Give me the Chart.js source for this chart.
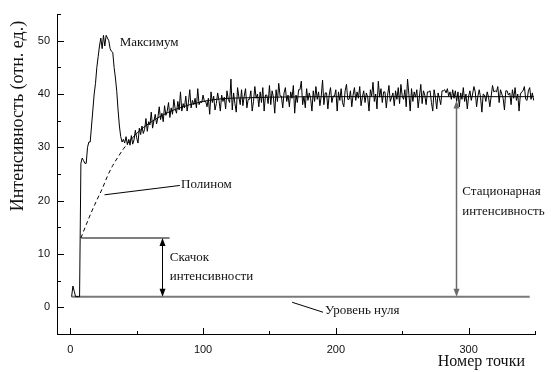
<!DOCTYPE html>
<html>
<head>
<meta charset="utf-8">
<script src="https://cdn.jsdelivr.net/npm/chart.js@4.4.1/dist/chart.umd.min.js"></script>
<style>
html,body{margin:0;padding:0;background:#fff;}
#wrap{width:551px;height:372px;position:relative;}
</style>
</head>
<body>
<div id="wrap"><canvas id="c" width="551" height="372"></canvas></div>
<script>
// ---- data ----
const riseStartX = 1;
const riseValues = [2,4,3,2,2,2,2,27,28,27.5,27,27,30,31,31,34,37,40,42,45,47,49,50.5,48.5,51,49,51,50.5,50,48.5,48,47.8,45,43,40.5,37,34,32,31,31.5,30.8,32,30.5,31.5];
const noiseStartX = 45;
const noiseValues = [
30.4,32.2,30.6,31.4,33.2,31.8,30.8,33.6,32.4,34.0,
32.6,33.4,35.4,33.0,34.8,34.2,36.6,33.6,35.0,36.2,
34.4,35.6,37.6,35.2,36.4,34.8,37.8,36.0,36.8,38.4,
35.6,37.4,36.2,39.0,37.2,36.4,38.6,37.0,40.4,36.8,
38.2,37.4,39.6,36.8,38.4,40.8,37.4,38.8,38.0,39.2,
37.4,41.0,38.0,38.6,38.4,39.8,38.6,38.6,37.6,39.2,
36.2,40.4,38.4,39.6,37.0,38.2,40.2,38.8,36.8,39.8,
38.6,39.4,37.2,40.6,39.0,38.4,42.8,37.0,40.2,38.2,
36.6,41.2,39.4,38.0,40.8,37.8,39.6,41.0,37.4,39.0,
39.0,40.6,36.8,38.6,41.4,39.2,40.0,37.6,40.4,38.4,
41.2,36.8,39.8,39.8,38.2,41.6,38.0,40.6,39.4,36.4,
40.8,38.6,42.0,39.6,39.6,37.4,40.2,41.2,38.6,39.8,
37.6,40.4,39.2,41.6,36.4,39.8,38.4,40.8,40.8,42.4,
38.0,39.6,37.4,41.0,38.8,40.2,39.2,36.8,40.6,38.6,
41.4,39.0,40.4,37.8,39.6,42.6,38.0,40.2,40.2,37.2,
39.8,41.2,38.4,39.6,39.6,40.8,36.8,40.4,38.8,41.0,
38.4,37.6,40.6,41.8,39.0,39.0,40.6,37.6,39.8,41.2,
38.8,40.4,39.2,41.4,37.8,39.4,40.6,38.4,40.2,39.4,
36.8,40.8,39.6,42.2,38.6,40.0,37.2,42.4,39.4,41.0,
38.4,40.4,40.4,37.4,39.8,41.6,38.6,39.4,40.2,37.8,
40.6,39.0,41.2,38.2,41.8,39.6,39.0,40.8,37.6,42.8,
40.0,36.8,41.0,38.6,40.4,39.4,40.8,37.4,39.6,41.8,
38.2,40.6,39.8,38.0,40.4,40.4,40.6,38.4,36.8,40.8,
39.4,37.2,40.2,39.2,38.0,40.6,40.6,40.8,40.2,41.0,
39.6,40.4,39.0,40.8,39.2,40.6,38.6,40.4,37.6,40.2,
39.0,41.2,38.6,40.0,37.2,39.6,40.6,38.8,40.0,41.4,
40.4,37.6,39.6,40.8,39.4,36.6,40.0,39.8,38.6,40.4,
39.4,37.6,39.6,41.6,40.4,40.6,40.4,41.4,38.4,40.8,
40.0,39.2,37.0,40.6,40.6,39.8,40.2,38.0,40.8,39.2,
41.2,38.8,40.0,36.8,40.0,40.4,40.6,41.4,39.0,38.8,
40.6,41.2,39.0,40.2,38.8
];
const polyX = [8,12,16,20,24,28,32,36,40,44];
const polyY = [13,15.5,17.9,20.1,22.2,24.6,26.6,28.2,29.7,31];
const trendX = [44,50,55,60,65,70,75,80,85,90,95,100,110,120,135,150,200,250,300,349];
const trendY = [31,32.6,33.7,34.6,35.4,36.1,36.7,37.2,37.6,38,38.3,38.6,39,39.2,39.3,39.4,39.5,39.5,39.5,39.5];
const zeroLevelX = [1, 346];
const zeroLevelY = [2, 2];
const jumpLineX = [8.3, 74.8];
const jumpLineY = [13, 13];
const jumpArrow = {x: 69.2, from: 13, to: 2};
const statArrow = {x: 290.2, from: 38.8, to: 2};
const xTickValues = [0,50,100,150,200,250,300,350];
const xTickLabels = [0,100,200,300];
const yTickValues = [-5,0,5,10,15,20,25,30,35,40,45,50,55];
const yTickLabels = [0,10,20,30,40,50];
const annotations = [
  {text:'Максимум', x:37.2, y:49.6},
  {text:'Полином', x:83.4, y:23.0},
  {text:'Скачок', x:74.9, y:9.3},
  {text:'интенсивности', x:74.9, y:5.7},
  {text:'Уровень нуля', x:191.9, y:-0.68},
  {text:'Стационарная', x:295.3, y:21.7},
  {text:'интенсивность', x:295.3, y:17.9}
];
const leaderLines = [
  {x1:25.8, y1:21.1, x2:82.5, y2:22.85},
  {x1:167.1, y1:0.95, x2:190.4, y2:-0.92}
];
const xTitle = 'Номер точки';
const yTitle = 'Интенсивность (отн. ед.)';

// ---- build ----
const mainPts = riseValues.map((v,i)=>({x:riseStartX+i,y:v}))
  .concat(noiseValues.map((v,i)=>({x:noiseStartX+i,y:v})));
const zip = (xs,ys)=>xs.map((x,i)=>({x:x,y:ys[i]}));

function arrowHead(ctx, x, y, dir){
  ctx.beginPath();
  ctx.moveTo(x, y);
  ctx.lineTo(x-3, y - dir*8);
  ctx.lineTo(x+3, y - dir*8);
  ctx.closePath();
  ctx.fill();
}
function drawArrow(ctx, xs, ys, a, color, width){
  const px = Math.round(xs.getPixelForValue(a.x)) + 0.5;
  const p1 = ys.getPixelForValue(a.from);
  const p2 = ys.getPixelForValue(a.to);
  ctx.save();
  ctx.strokeStyle = color; ctx.fillStyle = color; ctx.lineWidth = width;
  ctx.beginPath(); ctx.moveTo(px, p1+4); ctx.lineTo(px, p2-4); ctx.stroke();
  arrowHead(ctx, px, p1, -1);
  arrowHead(ctx, px, p2, 1);
  ctx.restore();
}

const overlay = {
  id:'overlay',
  afterDraw(chart){
    const ctx = chart.ctx, xs = chart.scales.x, ys = chart.scales.y;
    const ca = chart.chartArea;
    ctx.save();
    ctx.strokeStyle = '#000'; ctx.lineWidth = 1;
    xTickValues.forEach(v=>{
      const px = Math.round(xs.getPixelForValue(v))+0.5;
      const len = (v % 100 === 0) ? 6 : 3;
      ctx.beginPath(); ctx.moveTo(px, ca.bottom); ctx.lineTo(px, ca.bottom-len); ctx.stroke();
    });
    yTickValues.forEach(v=>{
      const py = Math.round(ys.getPixelForValue(v))+0.5;
      const len = (v % 10 === 0) ? 7 : 4;
      ctx.beginPath(); ctx.moveTo(ca.left, py); ctx.lineTo(ca.left+len, py); ctx.stroke();
    });
    leaderLines.forEach(l=>{
      ctx.beginPath();
      ctx.moveTo(xs.getPixelForValue(l.x1), ys.getPixelForValue(l.y1));
      ctx.lineTo(xs.getPixelForValue(l.x2), ys.getPixelForValue(l.y2));
      ctx.stroke();
    });
    drawArrow(ctx, xs, ys, jumpArrow, '#000', 1);
    drawArrow(ctx, xs, ys, statArrow, '#6a6a6a', 1.5);
    ctx.fillStyle = '#111';
    ctx.font = '13px "Liberation Serif"';
    ctx.textBaseline = 'middle'; ctx.textAlign = 'left';
    annotations.forEach(a=>{
      ctx.fillText(a.text, xs.getPixelForValue(a.x), ys.getPixelForValue(a.y));
    });
    ctx.font = '16px "Liberation Serif"';
    ctx.textAlign = 'right';
    ctx.fillText(xTitle, 525, 362);
    ctx.save();
    ctx.translate(18, 116);
    ctx.rotate(-Math.PI/2);
    ctx.textAlign = 'center';
    ctx.font = '18px "Liberation Serif"';
    ctx.fillText(yTitle, 0, 0);
    ctx.restore();
    ctx.restore();
  }
};

new Chart(document.getElementById('c'), {
  type:'line',
  data:{
    datasets:[
      {data:mainPts, borderColor:'#000', borderWidth:1, pointRadius:0, tension:0},
      {data:zip(polyX,polyY), borderColor:'#000', borderWidth:1, borderDash:[4,3], pointRadius:0, cubicInterpolationMode:'monotone'},
      {data:zip(trendX,trendY), borderColor:'#000', borderWidth:1, pointRadius:0, cubicInterpolationMode:'monotone'},
      {data:zip(jumpLineX,jumpLineY), borderColor:'#000', borderWidth:1.2, pointRadius:0},
      {data:zip(zeroLevelX,zeroLevelY), borderColor:'#7a7a7a', borderWidth:2, pointRadius:0}
    ]
  },
  options:{
    responsive:false, animation:false, devicePixelRatio:1,
    layout:{padding:{top:14, right:16, left:0, bottom:0}},
    plugins:{legend:{display:false}, tooltip:{enabled:false}},
    scales:{
      x:{
        type:'linear', min:-10, max:350,
        grid:{display:false, drawTicks:false},
        border:{display:true, color:'#000', width:1},
        afterBuildTicks:(s)=>{ s.ticks = xTickValues.map(v=>({value:v})); },
        afterFit:(s)=>{ s.height = 38; },
        ticks:{
          padding:9, color:'#111', maxRotation:0, autoSkip:false,
          font:{family:'"Liberation Sans"', size:11},
          callback:(v)=> xTickLabels.includes(v) ? String(v) : ''
        }
      },
      y:{
        type:'linear', min:-5, max:55,
        grid:{display:false, drawTicks:false},
        border:{display:true, color:'#000', width:1},
        afterBuildTicks:(s)=>{ s.ticks = yTickValues.map(v=>({value:v})); },
        afterFit:(s)=>{ s.width = 57; },
        ticks:{
          padding:7, color:'#111', autoSkip:false,
          font:{family:'"Liberation Sans"', size:11},
          callback:(v)=> yTickLabels.includes(v) ? String(v) : ''
        }
      }
    }
  },
  plugins:[overlay]
});
</script>
</body>
</html>
